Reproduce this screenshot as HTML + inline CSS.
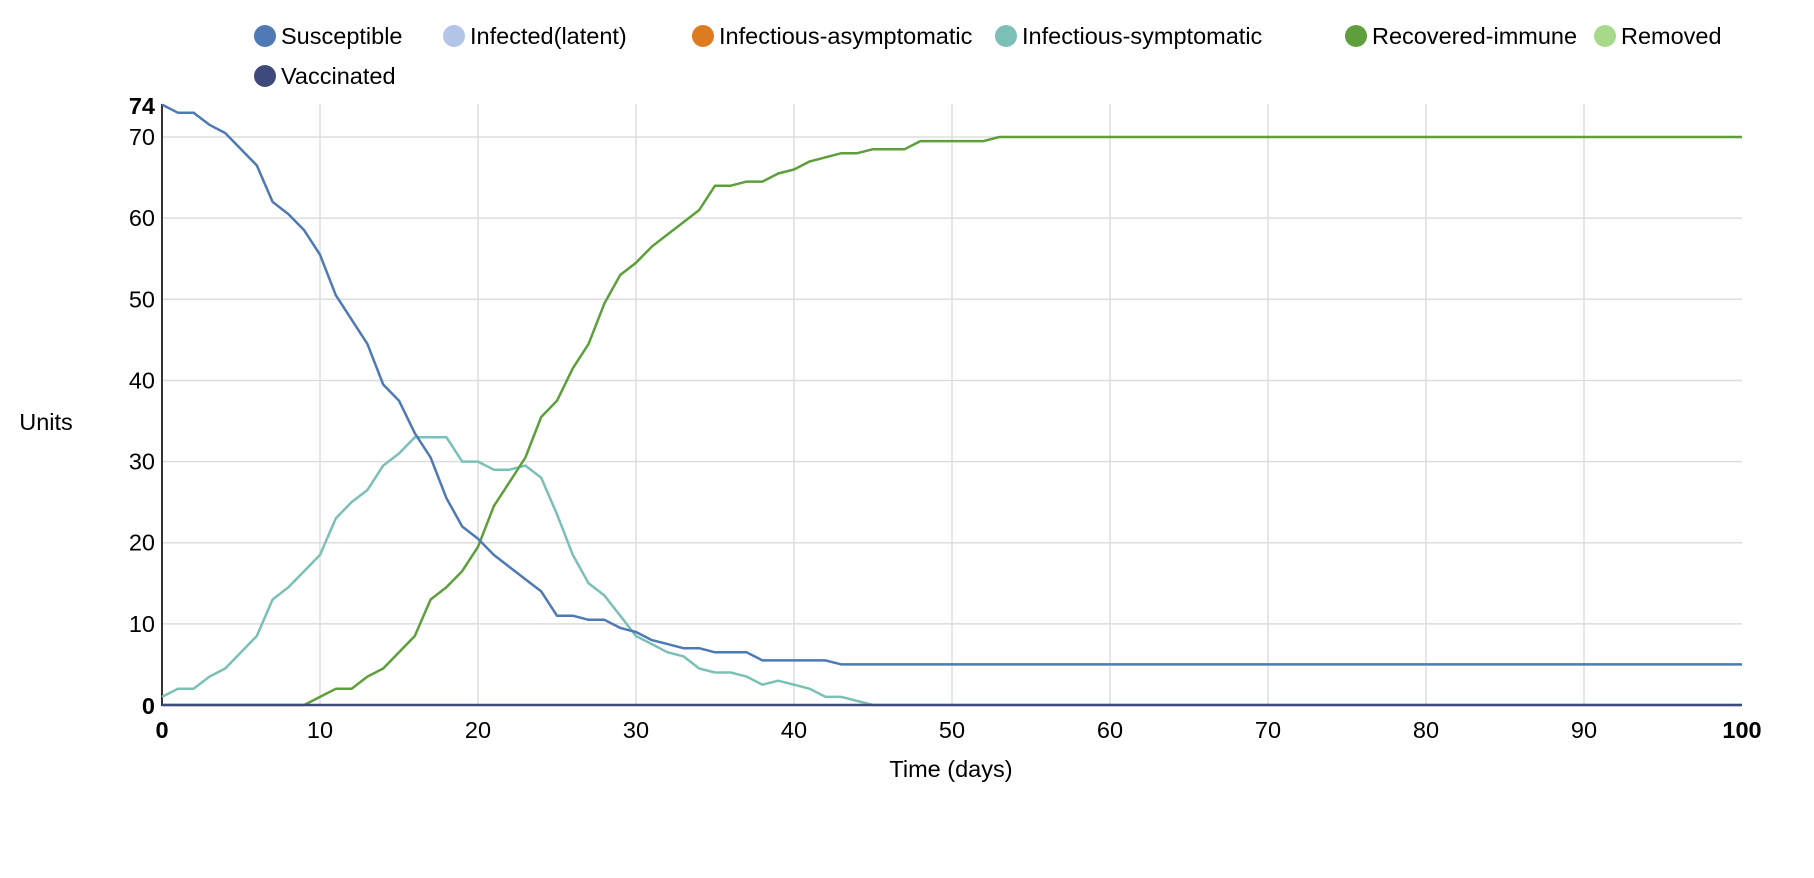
<!DOCTYPE html>
<html><head><meta charset="utf-8"><style>
body{margin:0;background:#fff;}
svg{display:block;font-family:"Liberation Sans",Arial,sans-serif;}
</style></head><body>
<svg id="c" width="1814" height="878" xmlns="http://www.w3.org/2000/svg"></svg>
<script>
const svg=document.getElementById('c');
const X=d=>162+d*15.8, Y=v=>705-v*8.114;
const F=23.5;
let h='';
for(let i=1;i<=9;i++)h+=`<line x1="${X(i*10)}" y1="104" x2="${X(i*10)}" y2="705" stroke="#ddd" stroke-width="1.5"/>`;
for(let v=10;v<=70;v+=10)h+=`<line x1="162" y1="${Y(v)}" x2="1742" y2="${Y(v)}" stroke="#ddd" stroke-width="1.5"/>`;
h+=`<line x1="162" y1="104" x2="162" y2="706" stroke="#333" stroke-width="2"/>`;
for(let v=10;v<=70;v+=10)h+=`<text x="155" y="${Y(v)+8}" font-size="${F}" text-anchor="end">${v}</text>`;
h+=`<text x="155" y="114" font-size="${F}" font-weight="bold" text-anchor="end">74</text>`;
h+=`<text x="155" y="714" font-size="${F}" font-weight="bold" text-anchor="end">0</text>`;
for(let i=1;i<=9;i++)h+=`<text x="${X(i*10)}" y="738" font-size="${F}" text-anchor="middle">${i*10}</text>`;
h+=`<text x="162" y="738" font-size="${F}" font-weight="bold" text-anchor="middle">0</text>`;
h+=`<text x="1742" y="738" font-size="${F}" font-weight="bold" text-anchor="middle">100</text>`;
h+=`<text x="951" y="777" font-size="${F}" text-anchor="middle">Time (days)</text>`;
h+=`<text x="46" y="430" font-size="${F}" text-anchor="middle">Units</text>`;
function ext(a,v){while(a.length<101)a.push(v);return a;}
const S=ext([74,73,73,71.5,70.5,68.5,66.5,62,60.5,58.5,55.5,50.5,47.5,44.5,39.5,37.5,33.5,30.5,25.5,22,20.5,18.5,17,15.5,14,11,11,10.5,10.5,9.5,9,8,7.5,7,7,6.5,6.5,6.5,5.5,5.5,5.5,5.5,5.5],5);
const I=ext([1,2,2,3.5,4.5,6.5,8.5,13,14.5,16.5,18.5,23,25,26.5,29.5,31,33,33,33,30,30,29,29,29.5,28,23.5,18.5,15,13.5,11,8.5,7.5,6.5,6,4.5,4,4,3.5,2.5,3,2.5,2,1,1,0.5,0],0);
const R=ext([0,0,0,0,0,0,0,0,0,0,1,2,2,3.5,4.5,6.5,8.5,13,14.5,16.5,19.5,24.5,27.5,30.5,35.5,37.5,41.5,44.5,49.5,53,54.5,56.5,58,59.5,61,64,64,64.5,64.5,65.5,66,67,67.5,68,68,68.5,68.5,68.5,69.5,69.5,69.5,69.5,69.5],70);
const Z=ext([],0);
const pl=(a,c)=>`<polyline fill="none" stroke="${c}" stroke-width="2.5" stroke-linejoin="round" points="${a.map((v,i)=>X(i).toFixed(1)+','+Y(v).toFixed(1)).join(' ')}"/>`;
h+=pl(I,'#7bc0b7')+pl(R,'#5e9f3b')+pl(S,'#4e79b5')+pl(Z,'#3f4a7c');
const L=[[265,36,'#4e79b5','Susceptible'],[454,36,'#b3c6e8','Infected(latent)'],[703,36,'#dc7b20','Infectious-asymptomatic'],[1006,36,'#7bc0b7','Infectious-symptomatic'],[1356,36,'#5e9f3b','Recovered-immune'],[1605,36,'#a8d98a','Removed'],[265,76,'#3f4a7c','Vaccinated']];
for(const [x,y,c,t] of L)h+=`<circle cx="${x}" cy="${y}" r="11" fill="${c}"/><text x="${x+16}" y="${y+8}" font-size="${F}">${t}</text>`;
svg.innerHTML=h;
</script>
</body></html>
